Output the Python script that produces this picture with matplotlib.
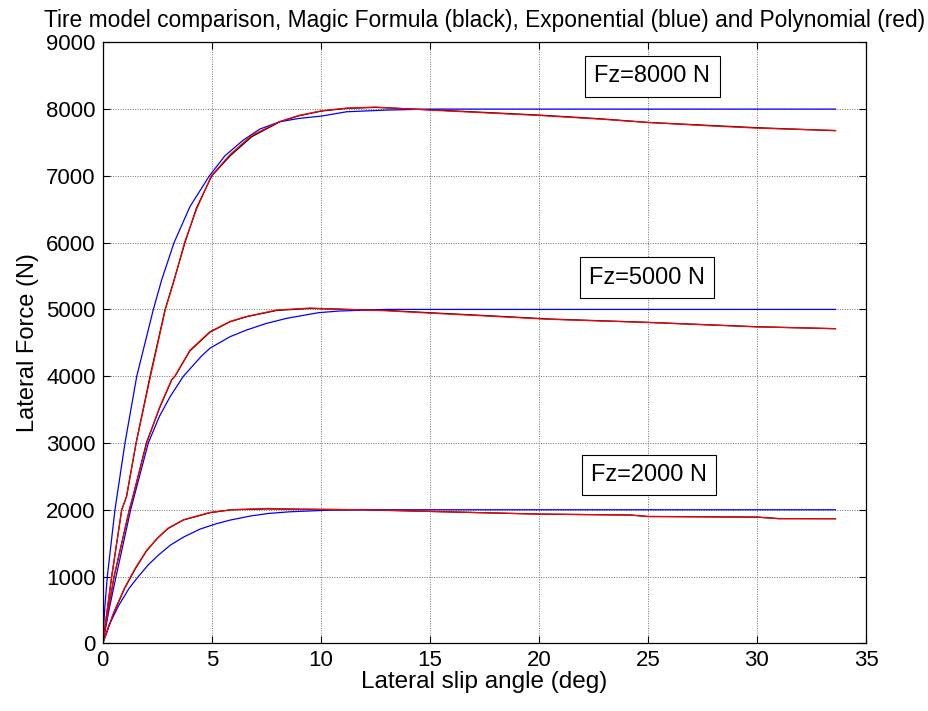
import matplotlib
matplotlib.use("Agg")
import matplotlib.pyplot as plt

plt.rcParams['font.family'] = ['Liberation Sans', 'DejaVu Sans']

# ---- data (slip angle deg, lateral force N) ----
# Fz = 8000 N
mf8_x = [0, 0.1, 0.2, 0.41, 0.87, 1.09, 1.53, 2.17, 2.86, 3.27, 3.77, 4.3, 5.0, 5.84, 6.83, 8.13, 9.0, 10.04, 11.19, 12.5, 15, 17.5, 20, 22.8, 25, 27.5, 30, 33.6]
mf8_y = [0, 230, 480, 1000, 2000, 2195, 3000, 4000, 5000, 5440, 6000, 6520, 7000, 7300, 7586, 7811, 7900, 7971, 8011, 8025, 7990, 7950, 7910, 7855, 7800, 7760, 7721, 7676]
ex8_x = [0, 0.05, 0.1, 0.21, 0.56, 1.02, 1.56, 2.32, 2.7, 3.27, 4.0, 4.89, 5.6, 6.45, 7.2, 8.13, 9.0, 10.04, 11.19, 13.0, 15.0, 33.6]
ex8_y = [0, 300, 560, 1000, 2000, 3000, 4000, 5000, 5440, 6000, 6540, 7000, 7300, 7537, 7700, 7811, 7860, 7896, 7960, 7985, 8000, 8000]
po8_x = [0, 0.1, 0.2, 0.41, 0.87, 1.09, 1.53, 2.19, 2.87, 3.27, 3.75, 4.3, 4.98, 5.84, 6.8, 8.13, 9.0, 10.04, 11.19, 12.5, 15, 17.5, 20, 22.8, 25, 27.5, 30, 33.6]
po8_y = [0, 240, 490, 1000, 2000, 2200, 3000, 4000, 5000, 5430, 6000, 6500, 7000, 7320, 7600, 7815, 7905, 7975, 8015, 8030, 7985, 7945, 7905, 7850, 7800, 7755, 7715, 7680]

# Fz = 5000 N
mf5_x = [0, 0.25, 0.52, 1.22, 1.39, 2.0, 2.6, 3.16, 3.31, 4.0, 4.92, 5.84, 6.6, 7.98, 9.5, 11.2, 13, 15, 18, 20.5, 25, 30, 33.6]
mf5_y = [0, 490, 1000, 2000, 2200, 3000, 3520, 3943, 4000, 4380, 4660, 4816, 4891, 4985, 5015, 5000, 4985, 4950, 4900, 4856, 4806, 4741, 4711]
ex5_x = [0, 0.3, 0.61, 1.28, 2.09, 2.6, 3.1, 3.7, 4.53, 4.92, 5.84, 6.6, 7.5, 8.44, 9.89, 10.85, 13, 33.6]
ex5_y = [0, 520, 1000, 2000, 3000, 3400, 3700, 4000, 4302, 4420, 4592, 4692, 4790, 4867, 4951, 4976, 5000, 5000]
po5_x = [0, 0.25, 0.52, 1.22, 1.39, 2.02, 2.6, 3.16, 3.31, 4.0, 4.92, 5.84, 6.6, 7.98, 9.5, 11.2, 13, 15, 18, 20.5, 25, 30, 33.6]
po5_y = [0, 500, 1000, 2000, 2210, 3000, 3530, 3950, 4000, 4390, 4667, 4820, 4895, 4991, 5020, 5000, 4980, 4945, 4895, 4852, 4805, 4738, 4712]

# Fz = 2000 N
mf2_x = [0, 0.5, 1.0, 1.5, 2.0, 2.5, 3.0, 3.7, 4.92, 5.9, 7.5, 9.0, 12.0, 15.0, 20.0, 24.2, 25.0, 30.0, 31.0, 33.6]
mf2_y = [0, 450, 820, 1120, 1380, 1570, 1720, 1847, 1956, 2000, 2012, 2008, 2000, 1975, 1935, 1921, 1900, 1890, 1868, 1866]
ex2_x = [0, 0.3, 0.72, 1.2, 1.63, 2.1, 2.55, 3.1, 3.7, 4.46, 5.2, 5.84, 6.75, 7.6, 8.6, 10.3, 12.0, 33.6]
ex2_y = [0, 280, 560, 820, 1000, 1180, 1320, 1470, 1590, 1710, 1790, 1845, 1905, 1945, 1970, 1993, 2000, 2000]
po2_x = [0, 0.5, 1.0, 1.5, 2.0, 2.5, 3.0, 3.7, 4.92, 5.9, 7.6, 9.0, 12.0, 15.0, 20.0, 24.2, 25.0, 30.0, 31.0, 33.6]
po2_y = [0, 460, 830, 1130, 1385, 1575, 1725, 1850, 1960, 2000, 2020, 2008, 2000, 1975, 1935, 1921, 1898, 1890, 1866, 1866]

labels = ['Fz=8000 N', 'Fz=5000 N', 'Fz=2000 N']
label_x = [25.2, 24.96, 25.05]
label_y = [8490, 5475, 2520]

x_ticks = [0, 5, 10, 15, 20, 25, 30, 35]
y_ticks = [0, 1000, 2000, 3000, 4000, 5000, 6000, 7000, 8000, 9000]

title = 'Tire model comparison, Magic Formula (black), Exponential (blue) and Polynomial (red)'
xlabel = 'Lateral slip angle (deg)'
ylabel = 'Lateral Force (N)'

# ---- figure ----
fig = plt.figure(figsize=(9.29, 7.11), dpi=100)
ax = fig.add_axes([0.1106, 0.0952, 0.8216, 0.8453])

lw = 0.9
for (mx, my), (ex, ey), (px, py) in [((mf8_x, mf8_y), (ex8_x, ex8_y), (po8_x, po8_y)),
                                      ((mf5_x, mf5_y), (ex5_x, ex5_y), (po5_x, po5_y)),
                                      ((mf2_x, mf2_y), (ex2_x, ex2_y), (po2_x, po2_y))]:
    ax.plot(mx, my, color='black', lw=lw)
    ax.plot(ex, ey, color='blue', lw=lw)
    ax.plot(px, py, color='red', lw=lw)

for t, tx, ty in zip(labels, label_x, label_y):
    ax.text(tx, ty, t, fontsize=17, ha='center', va='center',
            bbox=dict(boxstyle='square,pad=0.4', facecolor='white', edgecolor='black', lw=0.8))

ax.set_xlim(0, 35)
ax.set_ylim(0, 9000)
ax.set_xticks(x_ticks)
ax.set_yticks(y_ticks)
ax.tick_params(direction='in', top=True, right=True, length=5, width=0.8, labelsize=16, pad=5)
ax.grid(True, color='#707070', linestyle=(0, (1, 1.5)), linewidth=0.7)
for s in ax.spines.values():
    s.set_linewidth(0.9)

ax.set_title(title, fontsize=16.4, pad=11)
ax.set_xlabel(xlabel, fontsize=17.5, labelpad=0)
ax.set_ylabel(ylabel, fontsize=17, labelpad=5)

fig.savefig('out.png', dpi=100)
